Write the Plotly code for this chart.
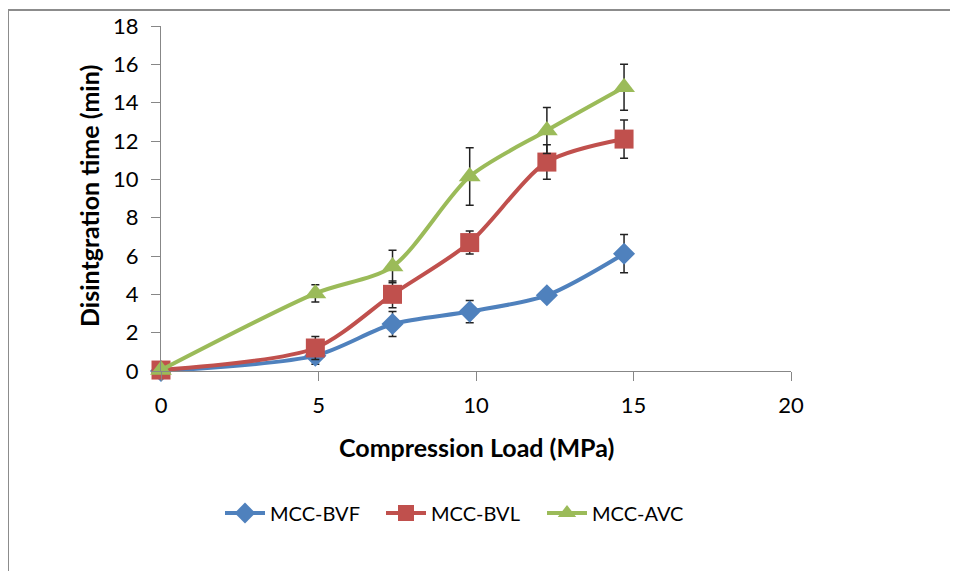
import plotly.graph_objects as go

load = [0, 4.9, 7.35, 9.8, 12.25, 14.7]
bvf = [0, 0.8, 2.45, 3.1, 3.95, 6.12]
bvf_err = [0, 0.45, 0.65, 0.58, 0.3, 1.0]
bvl = [0.05, 1.2, 4.0, 6.7, 10.9, 12.1]
bvl_err = [0, 0.6, 0.7, 0.6, 0.9, 1.0]
avc = [0.05, 4.05, 5.45, 10.15, 12.55, 14.8]
avc_err = [0, 0.45, 0.85, 1.5, 1.2, 1.2]

series = [
    ("MCC-BVF", bvf, bvf_err, "#4F81BD", "diamond", 17),
    ("MCC-BVL", bvl, bvl_err, "#C0504D", "square", 19),
    ("MCC-AVC", avc, avc_err, "#9BBB59", "triangle-up", 19),
]

FONT = "Lato, Calibri, Arial, sans-serif"

fig = go.Figure()
for name, y, err, color, sym, size in series:
    fig.add_trace(go.Scatter(
        x=load, y=y, name=name, mode="lines+markers", cliponaxis=False,
        line=dict(color=color, width=4, shape="spline", smoothing=0.8),
        marker=dict(symbol=sym, size=size, color=color),
        error_y=dict(type="data", array=err, visible=True, color="#222222",
                     thickness=1.5, width=4),
    ))

# page body has an 8px margin; figure origin sits at (8, 8) of the window
OFF = 8
W, H = 958 - OFF, 571 - OFF
L, R, T, B = 161, 791, 26, 371  # plot area in window pixels
ml, mt = L - OFF, T - OFF
mr, mb = W - (R - OFF), H - (B - OFF)
pw, ph = R - L, B - T

def px2x(px):
    return (px - L) / pw

def px2y(py):
    return (B - py) / ph

fig.update_layout(
    width=W, height=H,
    margin=dict(l=ml, r=mr, t=mt, b=mb, autoexpand=False),
    paper_bgcolor="white", plot_bgcolor="white",
    font=dict(family=FONT, size=20, color="#000000"),
    showlegend=True,
    legend=dict(orientation="h", x=px2x(220), xanchor="left", y=px2y(513), yanchor="middle",
                font=dict(size=20), itemwidth=40, entrywidth=106, entrywidthmode="pixels",
                tracegroupgap=0, bgcolor="rgba(0,0,0,0)"),
    xaxis=dict(range=[0, 20], dtick=5, showline=True, linecolor="#878787", linewidth=1,
               ticks="outside", ticklen=9, tickcolor="#878787", showgrid=False,
               zeroline=False, tickfont=dict(size=22), ticklabelstandoff=6),
    yaxis=dict(range=[0, 18], dtick=2, showline=True, linecolor="#878787", linewidth=1,
               ticks="outside", ticklen=9, tickcolor="#878787", showgrid=False,
               zeroline=False, tickfont=dict(size=22), ticklabelstandoff=8),
    shapes=[
        dict(type="line", xref="paper", yref="paper", x0=px2x(8), x1=px2x(8),
             y0=px2y(10), y1=px2y(580), line=dict(color="#8c8c8c", width=2)),
        dict(type="line", xref="paper", yref="paper", x0=px2x(7), x1=px2x(970),
             y0=px2y(10), y1=px2y(10), line=dict(color="#8c8c8c", width=2)),
    ],
    annotations=[
        dict(text="<b>Compression Load (MPa)</b>", xref="paper", yref="paper",
             x=px2x(476), y=px2y(447), xanchor="center", yanchor="middle",
             showarrow=False, font=dict(size=25)),
        dict(text="<b>Disintgration time (min)</b>", xref="paper", yref="paper",
             x=px2x(89), y=px2y(196), xanchor="center", yanchor="middle",
             textangle=-90, showarrow=False, font=dict(size=25)),
    ],
)

fig.write_html("out.html")
